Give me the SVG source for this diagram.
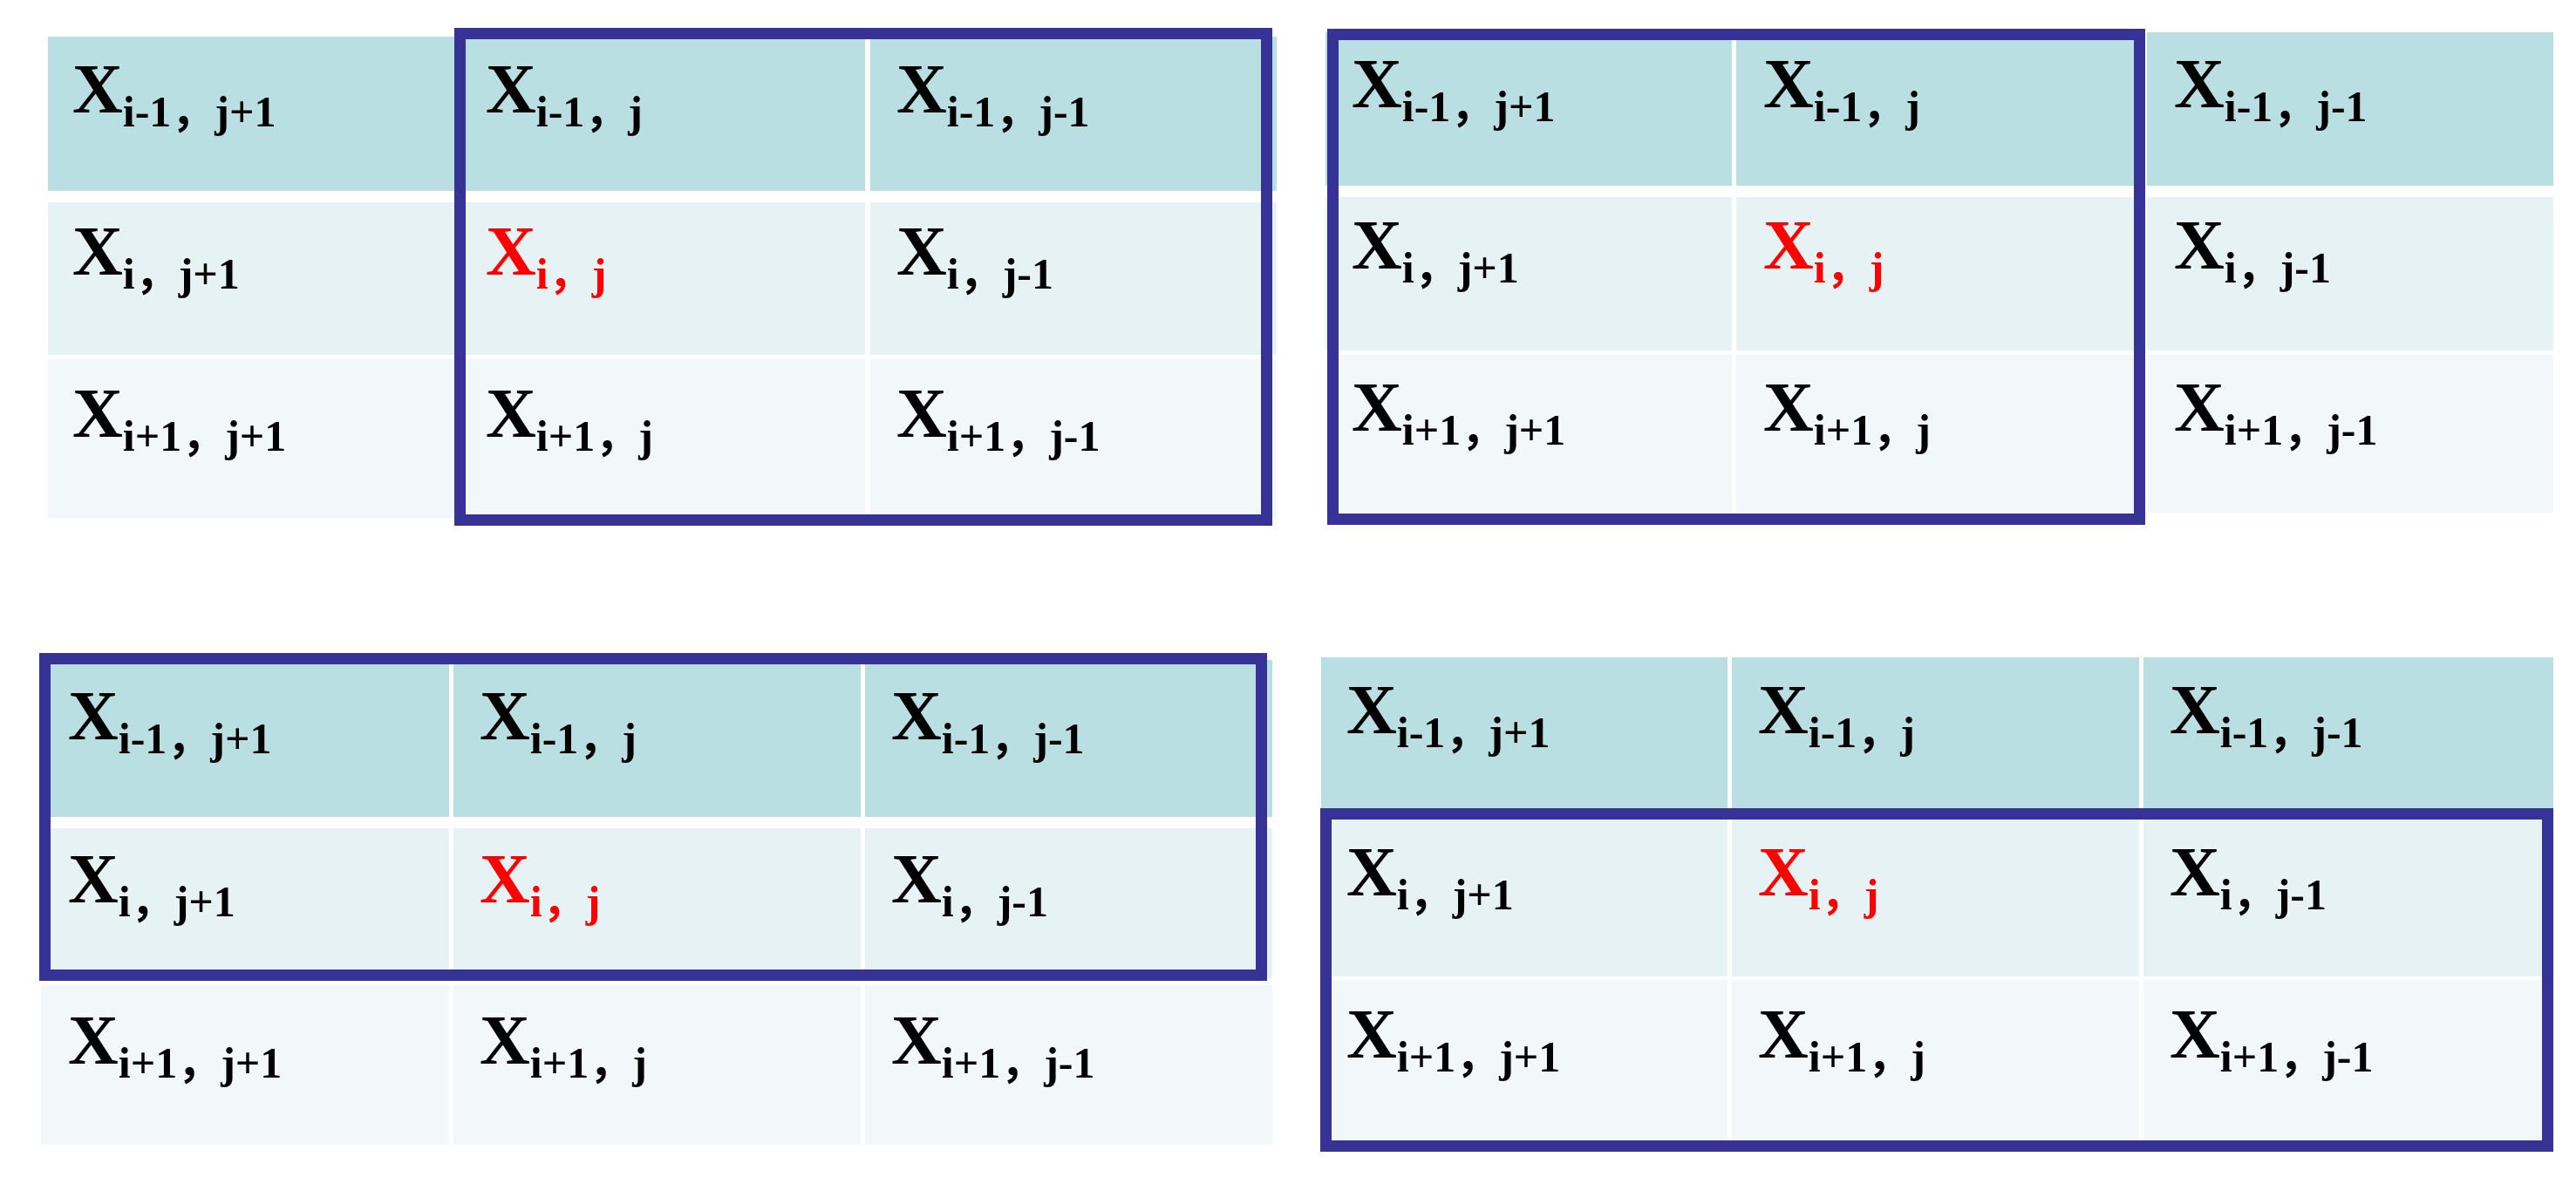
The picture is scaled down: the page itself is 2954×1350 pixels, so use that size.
<svg xmlns="http://www.w3.org/2000/svg" width="2954" height="1350" viewBox="0 0 2954 1350">
<style>
.h{fill:#b9dfe3}
.m{fill:#e6f2f4}
.l{fill:#f2f7fa}
.box{fill:none;stroke:#363296;stroke-width:13}
text{font-family:"Liberation Serif","Noto Sans CJK SC",serif;font-weight:bold;font-size:80px;fill:#000}
text.r{fill:#ff0000}
.s{font-size:50px}
</style>
<rect width="2954" height="1350" fill="#ffffff"/>
<!-- Table 1 -->
<g id="table1">
<g id="t1-r1c1"><rect class="h" x="55" y="42" width="467" height="177"/><text x="83" y="129">X<tspan class="s" dy="16">i-1，j+1</tspan></text></g>
<g id="t1-r1c2"><rect class="h" x="527" y="42" width="465" height="177"/><text x="557" y="129">X<tspan class="s" dy="16">i-1，j</tspan></text></g>
<g id="t1-r1c3"><rect class="h" x="998" y="42" width="466" height="177"/><text x="1028" y="129">X<tspan class="s" dy="16">i-1，j-1</tspan></text></g>
<g id="t1-r2c1"><rect class="m" x="55" y="232" width="467" height="175"/><text x="83" y="315">X<tspan class="s" dy="16">i，j+1</tspan></text></g>
<g id="t1-r2c2"><rect class="m" x="527" y="232" width="465" height="175"/><text class="r" x="557" y="315">X<tspan class="s" dy="16">i，j</tspan></text></g>
<g id="t1-r2c3"><rect class="m" x="998" y="232" width="466" height="175"/><text x="1028" y="315">X<tspan class="s" dy="16">i，j-1</tspan></text></g>
<g id="t1-r3c1"><rect class="l" x="55" y="412" width="467" height="182"/><text x="83" y="501">X<tspan class="s" dy="16">i+1，j+1</tspan></text></g>
<g id="t1-r3c2"><rect class="l" x="527" y="412" width="465" height="182"/><text x="557" y="501">X<tspan class="s" dy="16">i+1，j</tspan></text></g>
<g id="t1-r3c3"><rect class="l" x="998" y="412" width="466" height="182"/><text x="1028" y="501">X<tspan class="s" dy="16">i+1，j-1</tspan></text></g>
<rect id="box1" class="box" x="527.5" y="38.5" width="925" height="558"/>
</g>
<!-- Table 2 -->
<g id="table2">
<g id="t2-r1c1"><rect class="h" x="1520" y="37" width="466" height="176"/><text x="1550" y="123">X<tspan class="s" dy="16">i-1，j+1</tspan></text></g>
<g id="t2-r1c2"><rect class="h" x="1991" y="37" width="466" height="176"/><text x="2022" y="123">X<tspan class="s" dy="16">i-1，j</tspan></text></g>
<g id="t2-r1c3"><rect class="h" x="2462" y="37" width="466" height="176"/><text x="2493" y="123">X<tspan class="s" dy="16">i-1，j-1</tspan></text></g>
<g id="t2-r2c1"><rect class="m" x="1520" y="226" width="466" height="176"/><text x="1550" y="308">X<tspan class="s" dy="16">i，j+1</tspan></text></g>
<g id="t2-r2c2"><rect class="m" x="1991" y="226" width="466" height="176"/><text class="r" x="2022" y="308">X<tspan class="s" dy="16">i，j</tspan></text></g>
<g id="t2-r2c3"><rect class="m" x="2462" y="226" width="466" height="176"/><text x="2493" y="308">X<tspan class="s" dy="16">i，j-1</tspan></text></g>
<g id="t2-r3c1"><rect class="l" x="1520" y="407" width="466" height="181"/><text x="1550" y="494">X<tspan class="s" dy="16">i+1，j+1</tspan></text></g>
<g id="t2-r3c2"><rect class="l" x="1991" y="407" width="466" height="181"/><text x="2022" y="494">X<tspan class="s" dy="16">i+1，j</tspan></text></g>
<g id="t2-r3c3"><rect class="l" x="2462" y="407" width="466" height="181"/><text x="2493" y="494">X<tspan class="s" dy="16">i+1，j-1</tspan></text></g>
<rect id="box2" class="box" x="1528.5" y="39.5" width="925" height="556"/>
</g>
<!-- Table 3 -->
<g id="table3">
<g id="t3-r1c1"><rect class="h" x="47" y="757" width="468" height="180"/><text x="78" y="848">X<tspan class="s" dy="16">i-1，j+1</tspan></text></g>
<g id="t3-r1c2"><rect class="h" x="520" y="757" width="467" height="180"/><text x="550" y="848">X<tspan class="s" dy="16">i-1，j</tspan></text></g>
<g id="t3-r1c3"><rect class="h" x="992" y="757" width="467" height="180"/><text x="1022" y="848">X<tspan class="s" dy="16">i-1，j-1</tspan></text></g>
<g id="t3-r2c1"><rect class="m" x="47" y="950" width="468" height="172"/><text x="78" y="1035">X<tspan class="s" dy="16">i，j+1</tspan></text></g>
<g id="t3-r2c2"><rect class="m" x="520" y="950" width="467" height="172"/><text class="r" x="550" y="1035">X<tspan class="s" dy="16">i，j</tspan></text></g>
<g id="t3-r2c3"><rect class="m" x="992" y="950" width="467" height="172"/><text x="1022" y="1035">X<tspan class="s" dy="16">i，j-1</tspan></text></g>
<g id="t3-r3c1"><rect class="l" x="47" y="1130" width="468" height="183"/><text x="78" y="1220">X<tspan class="s" dy="16">i+1，j+1</tspan></text></g>
<g id="t3-r3c2"><rect class="l" x="520" y="1130" width="467" height="183"/><text x="550" y="1220">X<tspan class="s" dy="16">i+1，j</tspan></text></g>
<g id="t3-r3c3"><rect class="l" x="992" y="1130" width="467" height="183"/><text x="1022" y="1220">X<tspan class="s" dy="16">i+1，j-1</tspan></text></g>
<rect id="box3" class="box" x="51.5" y="755.5" width="1395" height="363"/>
</g>
<!-- Table 4 -->
<g id="table4">
<g id="t4-r1c1"><rect class="h" x="1515" y="754" width="466" height="173"/><text x="1544" y="841">X<tspan class="s" dy="16">i-1，j+1</tspan></text></g>
<g id="t4-r1c2"><rect class="h" x="1986" y="754" width="467" height="173"/><text x="2016" y="841">X<tspan class="s" dy="16">i-1，j</tspan></text></g>
<g id="t4-r1c3"><rect class="h" x="2458" y="754" width="470" height="173"/><text x="2488" y="841">X<tspan class="s" dy="16">i-1，j-1</tspan></text></g>
<g id="t4-r2c1"><rect class="m" x="1515" y="934" width="466" height="186"/><text x="1544" y="1027">X<tspan class="s" dy="16">i，j+1</tspan></text></g>
<g id="t4-r2c2"><rect class="m" x="1986" y="934" width="467" height="186"/><text class="r" x="2016" y="1027">X<tspan class="s" dy="16">i，j</tspan></text></g>
<g id="t4-r2c3"><rect class="m" x="2458" y="934" width="470" height="186"/><text x="2488" y="1027">X<tspan class="s" dy="16">i，j-1</tspan></text></g>
<g id="t4-r3c1"><rect class="l" x="1515" y="1124" width="466" height="184"/><text x="1544" y="1213">X<tspan class="s" dy="16">i+1，j+1</tspan></text></g>
<g id="t4-r3c2"><rect class="l" x="1986" y="1124" width="467" height="184"/><text x="2016" y="1213">X<tspan class="s" dy="16">i+1，j</tspan></text></g>
<g id="t4-r3c3"><rect class="l" x="2458" y="1124" width="470" height="184"/><text x="2488" y="1213">X<tspan class="s" dy="16">i+1，j-1</tspan></text></g>
<rect id="box4" class="box" x="1520.5" y="933.5" width="1401" height="381"/>
</g>
</svg>
